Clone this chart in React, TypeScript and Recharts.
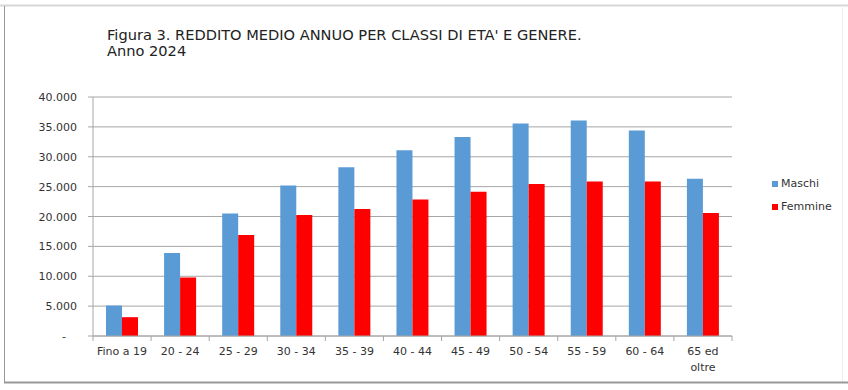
import { BarChart, Bar, XAxis, YAxis, CartesianGrid } from "recharts";

const classi = [
    "Fino a 19",
    "20 - 24",
    "25 - 29",
    "30 - 34",
    "35 - 39",
    "40 - 44",
    "45 - 49",
    "50 - 54",
    "55 - 59",
    "60 - 64",
    "65 ed oltre",
];
const maschi = [5100, 13900, 20500, 25200, 28250, 31100, 33300, 35550, 36050, 34400, 26300];
const femmine = [3150, 9800, 16900, 20250, 21250, 22850, 24150, 25450, 25850, 25850, 20600];
const yTicks = [0, 5000, 10000, 15000, 20000, 25000, 30000, 35000, 40000];
const serie = [
    { key: "Maschi", color: "#5b9bd5" },
    { key: "Femmine", color: "#ff0000" },
];

const data = classi.map((c, i) => ({ classe: c, Maschi: maschi[i], Femmine: femmine[i] }));

const W = 848;
const H = 390;
const M = { top: 97, right: 116, bottom: 10, left: 0 };
const YW = 93;
const band = (W - M.right - M.left - YW) / classi.length;

const font = "'DejaVu Sans', Verdana, sans-serif";
const axisGrey = "#a6a6a6";

const fmt = (v: number) => (v === 0 ? "-" : v.toLocaleString("it-IT").replace(/,/g, "."));

function YTick(props: any) {
    const { x, y, payload } = props;
    const v = payload.value as number;
    return (
        <g>
            <line x1={x - 5} x2={x} y1={y} y2={y} stroke={axisGrey} />
            {v === 0 ? (
                <text x={x - 29} y={y} dy={4} fontSize={11} fontFamily={font} fill="#333" textAnchor="middle">
                    -
                </text>
            ) : (
                <text x={x - 16} y={y} dy={4} fontSize={11} fontFamily={font} fill="#333" textAnchor="end">
                    {fmt(v)}
                </text>
            )}
        </g>
    );
}

function XTick(props: any) {
    const { x, y, payload, index } = props;
    const label = String(payload.value);
    const cut = label.lastIndexOf(" ");
    const lines = label.length > 9 ? [label.slice(0, cut), label.slice(cut + 1)] : [label];
    return (
        <g>
            <line x1={x - band / 2} x2={x - band / 2} y1={y} y2={y + 5} stroke={axisGrey} />
            {index === classi.length - 1 && (
                <line x1={x + band / 2} x2={x + band / 2} y1={y} y2={y + 5} stroke={axisGrey} />
            )}
            {lines.map((l, i) => (
                <text key={i} x={x} y={y + 19 + i * 16} fontSize={11} fontFamily={font} fill="#333" textAnchor="middle">
                    {l}
                </text>
            ))}
        </g>
    );
}

export default function App() {
    return (
        <div style={{ position: "absolute", left: 0, top: 0, width: W, height: H, background: "#fff" }}>
            <div
                style={{
                    position: "absolute",
                    left: 107,
                    top: 27,
                    fontFamily: font,
                    fontSize: 14.6,
                    lineHeight: "16px",
                    color: "#222",
                    whiteSpace: "nowrap",
                }}
            >
                Figura 3. REDDITO MEDIO ANNUO PER CLASSI DI ETA' E GENERE.
                <br />
                Anno 2024
            </div>
            <div style={{ position: "absolute", left: 0, top: 0 }}>
                <BarChart width={W} height={H} data={data} margin={M} barCategoryGap={13} barGap={0}>
                    <CartesianGrid vertical={false} stroke={axisGrey} />
                    <XAxis
                        dataKey="classe"
                        height={44}
                        axisLine={{ stroke: axisGrey }}
                        tickLine={false}
                        tickSize={0}
                        tickMargin={0}
                        tick={<XTick />}
                        interval={0}
                    />
                    <YAxis
                        width={YW}
                        domain={[0, 40000]}
                        ticks={yTicks}
                        axisLine={{ stroke: axisGrey }}
                        tickLine={false}
                        tickSize={0}
                        tickMargin={0}
                        tick={<YTick />}
                    />
                    {serie.map((s) => (
                        <Bar key={s.key} dataKey={s.key} fill={s.color} isAnimationActive={false} />
                    ))}
                </BarChart>
            </div>
            <div style={{ position: "absolute", left: 772, top: 172, fontFamily: font, fontSize: 11, color: "#333" }}>
                {serie.map((s) => (
                    <div key={s.key} style={{ display: "flex", alignItems: "center", height: 23 }}>
                        <span style={{ width: 6, height: 6, background: s.color, marginRight: 3, display: "inline-block" }} />
                        {s.key}
                    </div>
                ))}
            </div>
            <svg width={W} height={H} style={{ position: "absolute", left: 0, top: 0, pointerEvents: "none" }}>
                <line x1={0} x2={W} y1={5.5} y2={5.5} stroke="#d8d8d8" strokeWidth={2} />
                <line x1={4.5} x2={4.5} y1={6} y2={383} stroke="#999" strokeWidth={1} />
                <line x1={842.5} x2={842.5} y1={6} y2={383} stroke="#eee" strokeWidth={1} />
                <line x1={4} x2={W} y1={382.5} y2={382.5} stroke="#999" strokeWidth={2} />
            </svg>
        </div>
    );
}
